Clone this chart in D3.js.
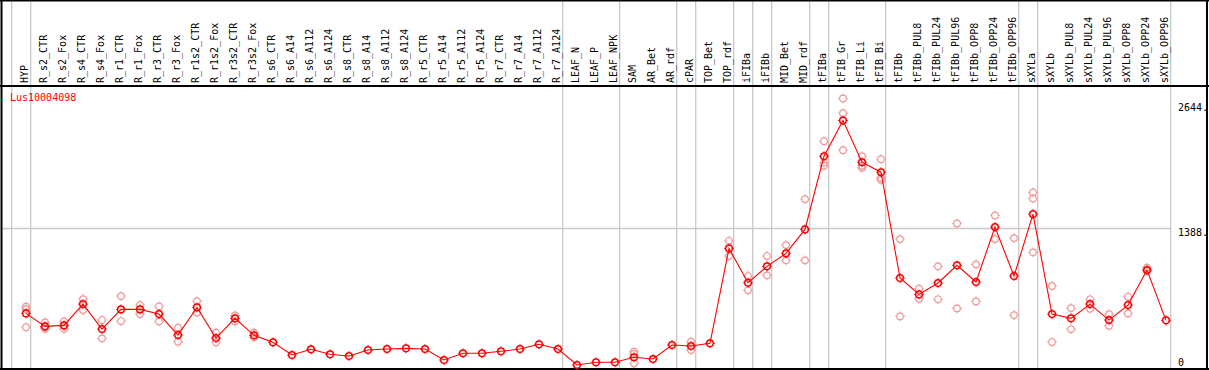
<!DOCTYPE html>
<html><head><meta charset="utf-8">
<script src="https://cdn.jsdelivr.net/npm/d3@7"></script>
<style>body{margin:0;background:#fff}svg{display:block}text{font-family:"DejaVu Sans Mono",monospace;font-size:10px}</style>
</head><body><svg id="c" width="1209" height="370"></svg>
<script>
const categories = ["HYP","R_s2_CTR","R_s2_Fox","R_s4_CTR","R_s4_Fox","R_r1_CTR","R_r1_Fox","R_r3_CTR","R_r3_Fox","R_r1s2_CTR","R_r1s2_Fox","R_r3s2_CTR","R_r3s2_Fox","R_s6_CTR","R_s6_A14","R_s6_A112","R_s6_A124","R_s8_CTR","R_s8_A14","R_s8_A112","R_s8_A124","R_r5_CTR","R_r5_A14","R_r5_A112","R_r5_A124","R_r7_CTR","R_r7_A14","R_r7_A112","R_r7_A124","LEAF_N","LEAF_P","LEAF_NPK","SAM","AR_Bet","AR_rdf","cPAR","TOP_Bet","TOP_rdf","iFIBa","iFIBb","MID_Bet","MID_rdf","tFIBa","tFIB_Gr","tFIB_Li","tFIB_Bi","tFIBb","tFIBb_PUL8","tFIBb_PUL24","tFIBb_PUL96","tFIBb_OPP8","tFIBb_OPP24","tFIBb_OPP96","sXYLa","sXYLb","sXYLb_PUL8","sXYLb_PUL24","sXYLb_PUL96","sXYLb_OPP8","sXYLb_OPP24","sXYLb_OPP96"];
const means = [537,407,417,630,380,577,577,530,320,597,290,487,317,247,120,177,127,110,170,180,187,180,70,137,137,157,180,227,180,20,47,47,97,80,220,210,237,1188,844,1008,1138,1378,2111,2469,2051,1951,891,727,841,1018,851,1401,911,1531,530,487,630,470,620,971,467];
const repA = [605,447,457,680,470,710,620,607,393,660,343,517,343,null,null,null,null,null,null,null,null,null,null,null,null,null,null,null,null,null,null,null,153,null,null,253,null,1264,911,1111,1221,1681,2262,2689,2111,2081,1281,784,1008,1438,1028,1518,1291,1748,811,590,678,530,703,994,null];
const repB = [398,383,383,570,287,460,530,457,253,547,247,457,297,null,null,null,null,null,null,null,null,null,null,null,null,null,null,null,null,null,null,null,37,null,null,170,null,1111,768,918,1068,1068,2015,2172,1995,1874,507,684,678,587,657,1281,520,1148,250,380,584,413,537,960,null];
const repC = [580,395,410,null,null,null,null,null,null,null,null,null,null,null,null,null,null,null,null,null,null,null,null,null,null,null,null,null,null,null,null,null,130,null,null,null,null,null,null,null,null,null,2045,2542,2015,1894,null,null,null,null,null,null,null,1688,null,null,null,null,null,null,null];
const groupStarts = ["HYP","R_s2_CTR","LEAF_N","SAM","cPAR","TOP_Bet","iFIBa","iFIBb","MID_Bet","tFIBa","tFIB_Gr","tFIBb","sXYLa","sXYLb"];
const axisTicks = [2644, 1388, 0];
const geneName = "Lus10004098";

const svg = d3.select("#c");
const x = d3.scalePoint().domain(categories).range([26, 1166]);
const step = x.step();
const y = d3.scaleLinear().domain([0, 2644]).range([367, 103]);

// group separators
const sepX = groupStarts.map(c => x(c) - step + 4.7);
sepX.push(x(categories[categories.length-1]) + 4.7);
svg.selectAll("line.sep").data(sepX).join("line").attr("class","sep")
  .attr("x1", d=>d).attr("x2", d=>d).attr("y1", 0).attr("y2", 369)
  .attr("stroke", "#c8c8c8").attr("stroke-width", 1.3);

// horizontal grid at middle tick
svg.append("line").attr("x1", 1).attr("x2", x(categories[categories.length-1]) + 4.7)
  .attr("y1", Math.round(y(1388))+0.5).attr("y2", Math.round(y(1388))+0.5)
  .attr("stroke", "#c8c8c8").attr("stroke-width", 1.3);

// frame
svg.append("line").attr("x1",0).attr("x2",1209).attr("y1",0.5).attr("y2",0.5).attr("stroke","#000").attr("stroke-width",2);
svg.append("line").attr("x1",0).attr("x2",1209).attr("y1",86).attr("y2",86).attr("stroke","#000").attr("stroke-width",2);
svg.append("line").attr("x1",0).attr("x2",1209).attr("y1",369).attr("y2",369).attr("stroke","#000").attr("stroke-width",2);
svg.append("line").attr("x1",1.5).attr("x2",1.5).attr("y1",0).attr("y2",370).attr("stroke","#000").attr("stroke-width",2);
svg.append("line").attr("x1",1207).attr("x2",1207).attr("y1",0).attr("y2",370).attr("stroke","#000").attr("stroke-width",2);

// header labels
svg.selectAll("text.cat").data(categories).join("text").attr("class","cat")
  .attr("transform", d => `translate(${x(d)+1.5},83) rotate(-90)`)
  .attr("fill", "#000").text(d => d);

// gene name
svg.append("text").attr("x", 10).attr("y", 101).attr("fill", "#ff0000").text(geneName);

// right axis labels
svg.selectAll("text.tick").data(axisTicks).join("text").attr("class","tick")
  .attr("x", 1178).attr("y", d => Math.min(y(d) + 8, 366)).attr("fill","#000")
  .text(d => d === 0 ? "0" : d + ".");

function marker(g, cx, cy, color, sw) {
  const r = 3.3;
  g.append("circle").attr("cx", cx).attr("cy", cy).attr("r", r)
    .attr("fill", "none").attr("stroke", color).attr("stroke-width", sw);
  const t = r + 1.6;
  [[0,-1],[0,1],[-1,0],[1,0]].forEach(([dx,dy]) => {
    g.append("line").attr("x1", cx+dx*r).attr("y1", cy+dy*r).attr("x2", cx+dx*t).attr("y2", cy+dy*t)
      .attr("stroke", color).attr("stroke-width", 1);
  });
}

// replicates
const gr = svg.append("g");
[repA, repB, repC].forEach(arr => arr.forEach((v, i) => {
  if (v != null) marker(gr, x(categories[i]), y(v), "#ef9a9a", 1.2);
}));

// mean line
const line = d3.line().x((d,i) => x(categories[i])).y(d => y(d));
svg.append("path").datum(means).attr("d", line).attr("fill","none").attr("stroke","#ff0000").attr("stroke-width",1.1);

// mean markers
const gm = svg.append("g");
means.forEach((v, i) => marker(gm, x(categories[i]), y(v), "#ff0000", 1.5));
</script></body></html>
